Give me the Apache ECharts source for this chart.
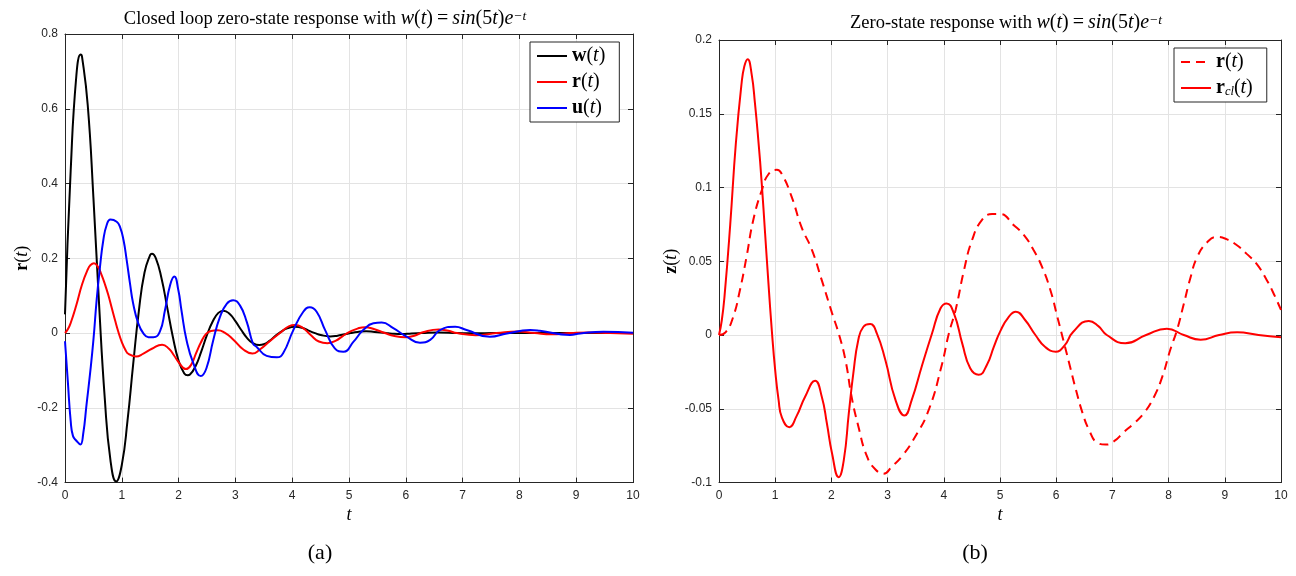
<!DOCTYPE html>
<html>
<head>
<meta charset="utf-8">
<script src="https://cdn.jsdelivr.net/npm/echarts@6/dist/echarts.min.js"></script>
<style>
html,body{margin:0;padding:0;background:#fff;}
#c{width:1296px;height:576px;}
</style>
</head>
<body>
<div id="c"></div>
<script>
// ---- data ----
const xTicks = [0,1,2,3,4,5,6,7,8,9,10];
const yTicksLeft = [-0.4,-0.2,0,0.2,0.4,0.6,0.8];
const yTicksRight = [-0.1,-0.05,0,0.05,0.1,0.15,0.2];

// w(t) (black, left)
const wPoints = [[0,0.05],[0.1,0.434],[0.2,0.689],[0.275,0.745],[0.3,0.739],[0.4,0.610],[0.5,0.363],[0.6,0.077],[0.7,-0.174],[0.8,-0.340],[0.9,-0.397],[1.0,-0.353],[1.1,-0.235],[1.2,-0.084],[1.3,0.059],[1.4,0.162],[1.5,0.209],[1.53,0.212],[1.6,0.200],[1.7,0.146],[1.8,0.068],[1.9,-0.011],[2.0,-0.074],[2.1,-0.108],[2.16,-0.113],[2.2,-0.111],[2.3,-0.088],[2.4,-0.049],[2.5,-0.005],[2.6,0.031],[2.7,0.054],[2.79,0.060],[2.9,0.051],[3.0,0.032],[3.1,0.009],[3.2,-0.012],[3.3,-0.026],[3.42,-0.032],[3.5,-0.030],[3.6,-0.021],[3.7,-0.008],[3.8,0.003],[3.9,0.012],[4.05,0.017],[4.2,0.013],[4.3,0.006],[4.4,0.0],[4.5,-0.005],[4.67,-0.009],[4.8,-0.007],[4.9,-0.004],[5.03,0],[5.15,0.003],[5.3,0.005],[5.45,0.003],[5.66,0],[5.8,-0.002],[5.93,-0.0026],[6.1,-0.001],[6.28,0],[6.56,0.0014],[6.91,0],[7.19,-0.0007],[7.54,0],[7.81,0.0004],[8.17,0],[10,0]];

// r(t) closed loop (red, left) = r_cl(t) (solid red, right)
const rclPoints = [[0,0],[0.05,0.01],[0.1,0.027],[0.2,0.075],[0.3,0.13],[0.4,0.17],[0.45,0.182],[0.51,0.187],[0.58,0.177],[0.64,0.157],[0.70,0.132],[0.76,0.103],[0.82,0.069],[0.88,0.035],[0.94,0.003],[1.0,-0.024],[1.06,-0.044],[1.12,-0.056],[1.25,-0.0625],[1.38,-0.055],[1.53,-0.042],[1.71,-0.031],[1.83,-0.042],[1.92,-0.060],[2.01,-0.080],[2.13,-0.0964],[2.22,-0.085],[2.31,-0.053],[2.39,-0.026],[2.48,-0.003],[2.57,0.0056],[2.69,0.0074],[2.81,0.001],[2.96,-0.017],[3.14,-0.044],[3.30,-0.0546],[3.43,-0.044],[3.61,-0.021],[3.79,0.001],[3.94,0.018],[4.05,0.0214],[4.18,0.0147],[4.33,-0.006],[4.47,-0.0226],[4.62,-0.027],[4.77,-0.020],[4.89,-0.008],[5.01,0.003],[5.15,0.012],[5.28,0.0158],[5.45,0.010],[5.63,0.0],[5.8,-0.008],[5.99,-0.0113],[6.15,-0.007],[6.3,0.002],[6.58,0.0095],[6.75,0.006],[6.9,0.0],[7.23,-0.0056],[7.6,0.0],[7.97,0.0043],[8.27,0.0],[8.57,-0.0032],[8.9,0.0],[9.22,0.0018],[9.6,0.0],[10,-0.0016]];

// u(t) (blue, left)
const uPoints = [[0,-0.022],[0.05,-0.13],[0.1,-0.235],[0.14,-0.275],[0.2,-0.288],[0.27,-0.298],[0.32,-0.27],[0.38,-0.19],[0.44,-0.11],[0.5,-0.019],[0.557,0.088],[0.616,0.177],[0.675,0.249],[0.734,0.289],[0.80,0.304],[0.91,0.298],[0.968,0.284],[1.03,0.249],[1.086,0.195],[1.144,0.133],[1.20,0.079],[1.29,0.026],[1.38,-0.001],[1.47,-0.011],[1.555,-0.0115],[1.67,0.004],[1.76,0.061],[1.85,0.128],[1.925,0.151],[1.995,0.115],[2.05,0.061],[2.14,-0.019],[2.26,-0.081],[2.39,-0.115],[2.49,-0.094],[2.61,-0.019],[2.73,0.044],[2.85,0.079],[2.96,0.088],[3.08,0.074],[3.2,0.03],[3.31,-0.028],[3.375,-0.037],[3.55,-0.061],[3.73,-0.065],[3.84,-0.054],[4.02,0.008],[4.195,0.057],[4.31,0.069],[4.43,0.057],[4.58,0.008],[4.75,-0.041],[4.9,-0.050],[5.08,-0.023],[5.25,0.008],[5.43,0.026],[5.575,0.028],[5.78,0.013],[6.02,-0.010],[6.25,-0.026],[6.43,-0.018],[6.6,0.008],[6.87,0.017],[7.07,0.008],[7.48,-0.010],[7.78,-0.001],[8.19,0.008],[8.36,0.006],[8.89,-0.005],[9.07,-0.001],[9.48,0.0035],[10,0.001]];

// r(t) open loop (dashed red, right)
const rOpenPoints = [[0,0],[0.12,0.002],[0.25,0.012],[0.37,0.030],[0.49,0.053],[0.61,0.078],[0.76,0.098],[0.88,0.109],[1.03,0.112],[1.12,0.109],[1.29,0.094],[1.47,0.073],[1.65,0.058],[1.83,0.037],[2.01,0.015],[2.13,0.001],[2.25,-0.017],[2.36,-0.042],[2.48,-0.062],[2.63,-0.082],[2.78,-0.091],[2.93,-0.094],[3.08,-0.089],[3.26,-0.082],[3.49,-0.069],[3.73,-0.051],[3.96,-0.021],[4.09,0.001],[4.21,0.017],[4.36,0.044],[4.50,0.064],[4.68,0.078],[4.86,0.082],[5.0,0.082],[5.25,0.0743],[5.43,0.0676],[5.60,0.0574],[5.75,0.046],[5.90,0.030],[6.02,0.0124],[6.11,-0.001],[6.23,-0.019],[6.35,-0.037],[6.47,-0.053],[6.58,-0.064],[6.73,-0.073],[6.88,-0.0743],[7.03,-0.072],[7.2,-0.066],[7.38,-0.060],[7.56,-0.053],[7.74,-0.042],[7.89,-0.028],[8.03,-0.010],[8.15,0.0034],[8.27,0.021],[8.39,0.039],[8.51,0.053],[8.69,0.063],[8.86,0.0665],[9.03,0.065],[9.21,0.061],[9.39,0.055],[9.57,0.048],[9.75,0.037],[9.87,0.028],[10,0.017]];

// ---- styling ----
const AX = '#262626';
const GRIDC = '#e3e3e3';
const SERIF = '"Liberation Serif", "DejaVu Serif", serif';
const SANS = '"Liberation Sans", Arial, sans-serif';

function richSet(fs, sfs, tfs) {
  return {
    tx: {fontFamily: SERIF, fontSize: tfs, fontWeight: 'normal', color: '#000'},
    n: {fontFamily: SERIF, fontSize: fs, fontWeight: 'normal', color: '#000'},
    eq: {fontFamily: SERIF, fontSize: fs, fontWeight: 'normal', color: '#000', padding: [0, 4, 0, 4]},
    i: {fontFamily: SERIF, fontSize: fs, fontWeight: 'normal', fontStyle: 'italic', color: '#000'},
    b: {fontFamily: SERIF, fontSize: fs, fontWeight: 'bold', color: '#000'},
    sup: {fontFamily: SERIF, fontSize: sfs, fontWeight: 'normal', fontStyle: 'italic', color: '#000', verticalAlign: 'top', lineHeight: sfs},
    sub: {fontFamily: SERIF, fontSize: sfs, fontWeight: 'normal', fontStyle: 'italic', color: '#000', verticalAlign: 'bottom', lineHeight: sfs}
  };
}
const richTitle = richSet(20, 13.5, 18.5);
const richLegend = richSet(20, 12.5, 20);
const richAxis = richSet(18, 12, 18);

function mainX(gi, xmin, xmax) {
  return {
    type: 'value', gridIndex: gi, min: xmin, max: xmax, interval: 1, position: 'bottom',
    axisLine: {show: true, onZero: false, lineStyle: {color: AX, width: 1}},
    axisTick: {show: true, inside: true, length: 5, lineStyle: {color: AX}},
    axisLabel: {show: true, fontFamily: SANS, fontSize: 12, color: AX, margin: 7},
    splitLine: {show: true, lineStyle: {color: GRIDC, width: 1}},
    name: '{i|t}', nameLocation: 'middle', nameGap: 24,
    nameTextStyle: {rich: richAxis}
  };
}
function topX(gi, xmin, xmax) {
  return {
    type: 'value', gridIndex: gi, min: xmin, max: xmax, interval: 1, position: 'top',
    axisLine: {show: true, onZero: false, lineStyle: {color: AX, width: 1}},
    axisTick: {show: true, inside: true, length: 5, lineStyle: {color: AX}},
    axisLabel: {show: false}, splitLine: {show: false}
  };
}
function leftY(gi, ymin, ymax, iv, nm, gap) {
  return {
    type: 'value', gridIndex: gi, min: ymin, max: ymax, interval: iv, position: 'left',
    axisLine: {show: true, onZero: false, lineStyle: {color: AX, width: 1}},
    axisTick: {show: true, inside: true, length: 5, lineStyle: {color: AX}},
    axisLabel: {show: true, fontFamily: SANS, fontSize: 12, color: AX, margin: 7},
    splitLine: {show: true, lineStyle: {color: GRIDC, width: 1}},
    name: nm, nameLocation: 'middle', nameGap: gap, nameRotate: 90,
    nameTextStyle: {rich: richAxis}
  };
}
function rightY(gi, ymin, ymax, iv) {
  return {
    type: 'value', gridIndex: gi, min: ymin, max: ymax, interval: iv, position: 'right',
    axisLine: {show: true, onZero: false, lineStyle: {color: AX, width: 1}},
    axisTick: {show: true, inside: true, length: 5, lineStyle: {color: AX}},
    axisLabel: {show: false}, splitLine: {show: false}
  };
}

const legendNames = {
  'w': '{b|w}{n|(}{i|t}{n|)}',
  'r': '{b|r}{n|(}{i|t}{n|)}',
  'u': '{b|u}{n|(}{i|t}{n|)}',
  'rOpen': '{b|r}{n|(}{i|t}{n|)}',
  'rcl': '{b|r}{sub|cl}{n|(}{i|t}{n|)}'
};

const legendCommon = {
  orient: 'vertical', backgroundColor: '#fff', borderColor: AX, borderWidth: 1,
  borderRadius: 0, itemWidth: 30, itemHeight: 14, itemGap: 6,
  itemStyle: {opacity: 0},
  formatter: name => legendNames[name],
  textStyle: {rich: richLegend},
  selectedMode: false
};

const lineSeries = (name, data, color, xi, yi, dashed) => ({
  name, type: 'line', data, xAxisIndex: xi, yAxisIndex: yi,
  showSymbol: false, symbol: 'none', smooth: 0.5,
  lineStyle: {color, width: 2, type: dashed ? [9, 6] : 'solid'},
  itemStyle: {color}, animation: false, z: 3
});

const mathTitle = '{i|w}{n|(}{i|t}{n|)}{eq|=}{i|sin}{n|(5}{i|t}{n|)}{i|e}{sup|−t}';

const option = {
  animation: false,
  backgroundColor: '#fff',
  title: [
    {text: '{tx|Closed loop zero-state response with }' + mathTitle,
     left: 320, top: 4, textAlign: 'center', textStyle: {fontWeight: 'normal', rich: richTitle}},
    {text: '{tx|Zero-state response with }' + mathTitle,
     left: 1001, top: 8, textAlign: 'center', textStyle: {fontWeight: 'normal', rich: richTitle}}
  ],
  grid: [
    {left: 65, right: 663, top: 34, bottom: 93.4, containLabel: false},
    {left: 719, right: 15, top: 40, bottom: 93.5, containLabel: false}
  ],
  xAxis: [mainX(0, 0, 10), topX(0, 0, 10), mainX(1, 0, 10), topX(1, 0, 10)],
  yAxis: [
    leftY(0, -0.4, 0.8, 0.2, '{b|r}{n|(}{i|t}{n|)}', 34), rightY(0, -0.4, 0.8, 0.2),
    leftY(1, -0.1, 0.2, 0.05, '{b|z}{n|(}{i|t}{n|)}', 34), rightY(1, -0.1, 0.2, 0.05)
  ],
  legend: [
    Object.assign({}, legendCommon, {data: ['w','r','u'], left: 530, top: 42, padding: [4, 14, 4, 6]}),
    Object.assign({}, legendCommon, {data: ['rOpen','rcl'], left: 1174, top: 48, padding: [4, 14, 4, 6]})
  ],
  series: [
    lineSeries('w', wPoints, '#000000', 0, 0, false),
    lineSeries('r', rclPoints, '#ff0000', 0, 0, false),
    lineSeries('u', uPoints, '#0000ff', 0, 0, false),
    lineSeries('rOpen', rOpenPoints, '#ff0000', 2, 2, true),
    lineSeries('rcl', rclPoints, '#ff0000', 2, 2, false)
  ],
  graphic: [
    {type: 'text', x: 320, y: 553, style: {text: '(a)', fontFamily: SERIF, fontSize: 22, fill: '#000', align: 'center', verticalAlign: 'middle'}},
    {type: 'text', x: 975, y: 553, style: {text: '(b)', fontFamily: SERIF, fontSize: 22, fill: '#000', align: 'center', verticalAlign: 'middle'}}
  ]
};

const chart = echarts.init(document.getElementById('c'), null, {renderer: 'canvas'});
chart.setOption(option);
</script>
</body>
</html>
